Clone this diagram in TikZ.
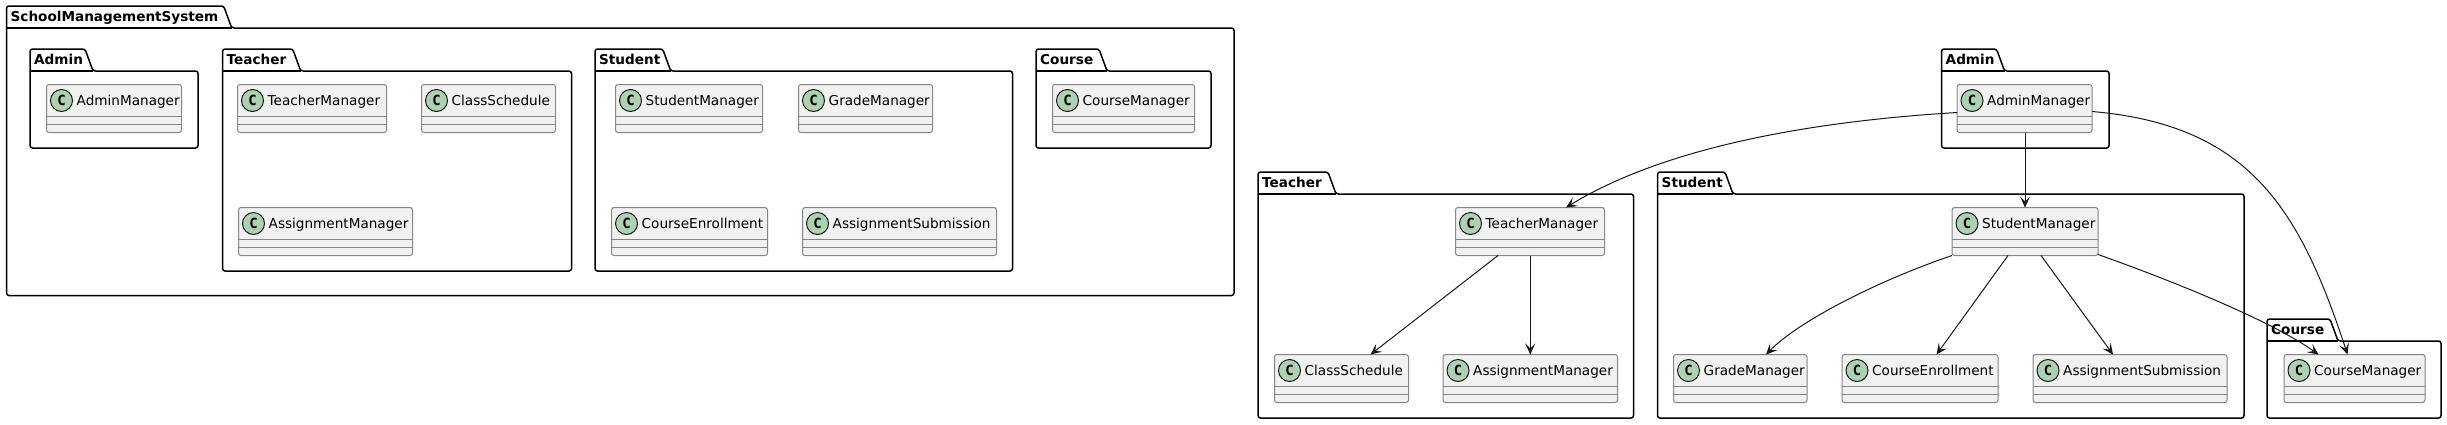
\documentclass[tikz,border=0pt]{standalone}
\usepackage{fontspec}
\setmainfont{DejaVu Sans}
\setmonofont{DejaVu Sans Mono}
\usetikzlibrary{arrows.meta}
\definecolor{linegray}{HTML}{181818}
\definecolor{bordergray}{HTML}{858585}
\definecolor{classfill}{HTML}{F1F1F1}
\definecolor{circlefill}{HTML}{ADD1B2}
\newcommand{\pkgbox}[7]{%
	\draw[pkgline] (#2,#5) -- (#2,#3) -- (#6-8,#3) -- (#6,#3+22) -- (#4,#3+22) -- (#4,#5) -- cycle;
	\draw[pkgline,sharp corners] (#2,#3+22) -- (#6,#3+22);
	\node[pkgname] (#1) at (#2+4,#3+15) {#7};
}
\newcommand{\classbox}[5]{%
	\node[classrect,minimum width=#4pt] (#1) at (#2,#3) {};
	\draw[classline] ([yshift=-32pt]#1.north west) -- ([yshift=-32pt]#1.north east);
	\draw[classline] ([yshift=-40pt]#1.north west) -- ([yshift=-40pt]#1.north east);
	\node[classcircle] (#1c) at ([shift={(15pt,-16pt)}]#1.north west) {\fontsize{14}{14}\selectfont\ttfamily\bfseries C};
	\node[classname] (#1t) at ([shift={(30pt,-20.5pt)}]#1.north west) {#5};
}
\begin{document}
\begin{tikzpicture}
	[x=1pt,y=-1pt,
	font=\fontsize{13.6}{14}\selectfont,
	pkgline/.style={draw=black,line width=1.5pt,rounded corners=2.5pt},
	pkgname/.style={anchor=base west,inner sep=0pt,font=\fontsize{13.6}{14}\selectfont\bfseries},
	classrect/.style={draw=bordergray,fill=classfill,line width=1pt,rounded corners=2.5pt,anchor=north west,minimum height=48pt,inner sep=0pt,outer sep=0pt},
	classline/.style={draw=bordergray,line width=1pt},
	classcircle/.style={circle,draw=linegray,fill=circlefill,line width=1pt,minimum size=22pt,inner sep=0pt},
	classname/.style={anchor=base west,inner sep=0pt},
	uses/.style={draw=linegray,line width=1pt,-{Stealth[length=11pt,width=10pt,inset=5pt]}}
	]
	\useasboundingbox (0,0) rectangle (2447,424);
	% left group
	\pkgbox{sys}{6.5}{6}{1234}{295.5}{231.7}{SchoolManagementSystem}
	\pkgbox{sAdmin}{30}{49}{198}{148}{93}{Admin}
	\pkgbox{sTeacher}{222.5}{49}{571.5}{271}{300.7}{Teacher}
	\pkgbox{sStudent}{595}{49}{1012.5}{271}{670.7}{Student}
	\pkgbox{sCourse}{1036}{49}{1211}{148}{1107}{Course}
	\classbox{sam}{46.5}{84.5}{135}{AdminManager}
	\classbox{stm}{237.5}{84.5}{149}{TeacherManager}
	\classbox{scs}{421.5}{84.5}{134}{ClassSchedule}
	\classbox{sagm}{238.5}{207.5}{174}{AssignmentManager}
	\classbox{ssm}{615.5}{84.5}{147}{StudentManager}
	\classbox{sgm}{798.5}{84.5}{134}{GradeManager}
	\classbox{sce}{611.5}{207.5}{156}{CourseEnrollment}
	\classbox{sas}{802.5}{207.5}{194}{AssignmentSubmission}
	\classbox{scm}{1052.5}{84.5}{142}{CourseManager}
	% right group
	\pkgbox{rAdmin}{1941.5}{49}{2109}{148}{2004.5}{Admin}
	\pkgbox{rTeacher}{1258}{172}{1633.5}{418}{1336}{Teacher}
	\pkgbox{rStudent}{1657.5}{172}{2244}{418}{1733}{Student}
	\pkgbox{rCourse}{2267}{319}{2441}{418}{2338}{Course}
	\classbox{am}{1957}{84.5}{135}{AdminManager}
	\classbox{tm}{1455.5}{207.5}{149}{TeacherManager}
	\classbox{cs}{1274.5}{354.5}{134}{ClassSchedule}
	\classbox{agm}{1443}{354.5}{174.5}{AssignmentManager}
	\classbox{sm}{1952}{207.5}{146}{StudentManager}
	\classbox{gm}{1673.5}{354.5}{133.5}{GradeManager}
	\classbox{ce}{1842}{354.5}{156}{CourseEnrollment}
	\classbox{as}{2033}{354.5}{194}{AssignmentSubmission}
	\classbox{cm}{2284}{354.5}{141}{CourseManager}
	% connectors
	\draw[uses] ([yshift=-28pt]am.north west) .. controls +(-157,9.5) and (1660,150) .. ([xshift=110.5pt]tm.north west);
	\draw[uses] (am.south -| sm.north) -- (sm.north);
	\draw[uses] ([yshift=-27pt]am.north east) .. controls (2250,125) and (2300,210) .. ([xshift=63.5pt]cm.north west);
	\draw[uses] ([xshift=42.5pt]tm.south west) -- ([xshift=96pt]cs.north west);
	\draw[uses] (tm.south -| agm.north) -- (agm.north);
	\draw[uses] (sm.south west) .. controls (1880,280) and (1800,320) .. ([xshift=92.5pt]gm.north west);
	\draw[uses] ([xshift=56pt]sm.south west) -- ([xshift=94.5pt]ce.north west);
	\draw[uses] ([xshift=89pt]sm.south west) -- ([xshift=80pt]as.north west);
	\draw[uses] ([yshift=1pt]sm.south east) .. controls (2170,280) and (2270,320) .. ([xshift=34.5pt]cm.north west);
\end{tikzpicture}
\end{document}
